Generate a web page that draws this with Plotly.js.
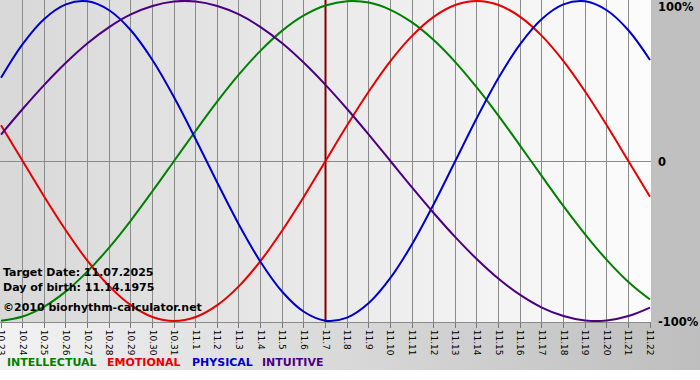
<!DOCTYPE html>
<html><head><meta charset="utf-8">
<script src="https://cdn.plot.ly/plotly-3.0.1.min.js"></script>
<style>
html,body{margin:0;padding:0;background:#fff;}
#wrap{position:relative;width:700px;height:380px;overflow:hidden;background:#fff;}
#bgplot{position:absolute;left:0;top:0;width:651px;height:322px;background:linear-gradient(to right,#d8d8d8,#fcfcfc);}
#bgright{position:absolute;left:651px;top:0;width:49px;height:322px;background:#c0c0c0;}
#bgbottom{position:absolute;left:0;top:322px;width:700px;height:48px;background:linear-gradient(to right,#f2f2f2,#bebebe);}
#chart{position:absolute;left:0;top:0;width:700px;height:380px;}
</style></head>
<body>
<div id="wrap"><div id="bgplot"></div><div id="bgright"></div><div id="bgbottom"></div><div id="chart"></div></div>
<script>
// ---- data ----
const days = ['10.23','10.24','10.25','10.26','10.27','10.28','10.29','10.30','10.31',
  '11.1','11.2','11.3','11.4','11.5','11.6','11.7','11.8','11.9','11.10','11.11','11.12',
  '11.13','11.14','11.15','11.16','11.17','11.18','11.19','11.20','11.21','11.22'];
const intellectual = [-99.9,-97.2,-91.0,-81.5,-69.0,-54.1,-37.2,-18.9,0,18.9,37.2,54.1,69.0,81.5,91.0,97.2,
  99.9,99.0,94.5,86.6,75.6,61.8,45.8,28.2,9.5,-9.5,-28.2,-45.8,-61.8,-75.6,-86.6];
const emotional = [22.3,0,-22.3,-43.4,-62.4,-78.2,-90.1,-97.5,-100,-97.5,-90.1,-78.2,-62.4,-43.4,-22.3,
  0,22.3,43.4,62.4,78.2,90.1,97.5,100,97.5,90.1,78.2,62.4,43.4,22.3,0,-22.3];
const physical = [52.0,73.1,88.8,97.9,99.8,94.2,81.7,63.1,39.8,13.6,-13.6,-39.8,-63.1,-81.7,-94.2,-99.8,
  -97.9,-88.8,-73.1,-52.0,-27.0,0,27.0,52.0,73.1,88.8,97.9,99.8,94.2,81.7,63.1];
const intuitive = [16.5,32.5,47.6,61.4,73.6,83.7,91.6,96.9,99.7,99.7,96.9,91.6,83.7,73.6,61.4,47.6,
  32.5,16.5,0,-16.5,-32.5,-47.6,-61.4,-73.6,-83.7,-91.6,-96.9,-99.7,-99.7,-96.9,-91.6];
const seriesNames = ['INTELLECTUAL','EMOTIONAL','PHYSICAL','INTUITIVE'];
const yTickVals = [100, 0, -100];
const yTickText = ['100%', '0', '-100%'];
const targetDay = '11.7';
const infoLines = ['Target Date: 11.07.2025', 'Day of birth: 11.14.1975', '\u00A92010 biorhythm-calculator.net'];

// ---- styling ----
const colors = ['#008000', '#e60000', '#0000cc', '#4b0082'];
const seriesData = [intellectual, emotional, physical, intuitive];
const xi = days.map((d, i) => i);
const yMin = -100.625, yMax = 100.625;
const ti = days.indexOf(targetDay);

const traces = [{
  type: 'scatter', mode: 'lines', x: [ti, ti], y: [yMin, yMax],
  line: {color: '#800000', width: 2}, hoverinfo: 'skip', showlegend: false
}].concat(seriesData.map((vals, k) => ({
  type: 'scatter', mode: 'lines', x: xi, y: vals, name: seriesNames[k],
  line: {color: colors[k], width: 2, shape: 'spline', smoothing: 1},
  hoverinfo: 'skip', showlegend: false
})));

const PW = 651, PH = 322;
const annotations = [];
yTickVals.forEach((v, k) => {
  annotations.push({xref: 'paper', yref: 'y', x: 1, y: v, xanchor: 'left', yanchor: 'middle',
    xshift: 5, yshift: (v === 100 ? -6 : -1), showarrow: false, text: yTickText[k],
    font: {family: 'DejaVu Sans', size: 11.5, color: '#000', weight: 'bold'}});
});
const infoY = [272, 287, 307];
infoLines.forEach((t, k) => {
  annotations.push({xref: 'paper', yref: 'paper', x: 0, y: 1 - infoY[k] / PH, xanchor: 'left', yanchor: 'middle',
    xshift: 1, showarrow: false, text: t,
    font: {family: 'DejaVu Sans', size: 11, color: '#000', weight: 'bold'}});
});
const legX = [7, 107, 192, 262];
seriesNames.forEach((n, k) => {
  annotations.push({xref: 'paper', yref: 'paper', x: legX[k] / PW, y: 1 - 362 / PH, xanchor: 'left', yanchor: 'middle',
    xshift: -2, showarrow: false, text: n,
    font: {family: 'DejaVu Sans', size: 11, color: colors[k], weight: 'bold'}});
});

const layout = {
  width: 700, height: 380,
  margin: {l: 0, r: 700 - PW, t: 0, b: 380 - PH, pad: 0},
  paper_bgcolor: 'rgba(0,0,0,0)', plot_bgcolor: 'rgba(0,0,0,0)',
  showlegend: false,
  xaxis: {
    range: [-0.046, days.length - 1 + 0.046], tickmode: 'array', tickvals: xi, ticktext: days,
    tickangle: 90, ticks: 'outside', ticklen: 5, tickcolor: '#777', tickwidth: 1,
    ticklabeloverflow: 'allow',
    showgrid: true, gridcolor: '#8a8a8a', gridwidth: 1, zeroline: false,
    showline: true, linecolor: '#8a8a8a', linewidth: 1,
    tickfont: {family: 'DejaVu Sans', size: 9, color: '#000'}, fixedrange: true
  },
  yaxis: {
    range: [yMin, yMax], showticklabels: false, ticks: '', showgrid: false,
    zeroline: true, zerolinecolor: '#8a8a8a', zerolinewidth: 1, fixedrange: true
  },
  annotations: annotations
};

Plotly.newPlot('chart', traces, layout, {staticPlot: true, displayModeBar: false});
</script>
</body></html>
